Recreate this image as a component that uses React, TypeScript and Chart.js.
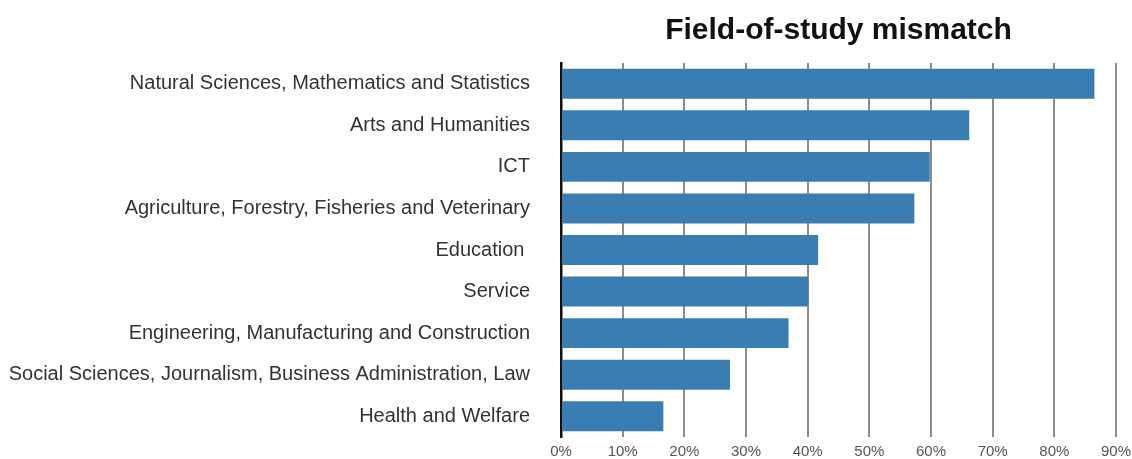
import React, { useEffect, useRef } from "react";
import { Chart, registerables } from "chart.js";

Chart.register(...registerables);

const categories = [
  "Natural Sciences, Mathematics and Statistics",
  "Arts and Humanities",
  "ICT",
  "Agriculture, Forestry, Fisheries and Veterinary",
  "Education ",
  "Service",
  "Engineering, Manufacturing and Construction",
  "Social Sciences, Journalism, Business Administration, Law",
  "Health and Welfare",
];

const mismatchValues = [86.5, 66.2, 59.8, 57.3, 41.7, 40.1, 36.9, 27.4, 16.6];

const xTickValues = [0, 10, 20, 30, 40, 50, 60, 70, 80, 90];

const FONT = "'Liberation Sans', Arial, Helvetica, sans-serif";

export default function App() {
  const ref = useRef<HTMLCanvasElement | null>(null);

  useEffect(() => {
    if (!ref.current) return;
    const chart = new Chart(ref.current, {
      type: "bar",
      data: {
        labels: categories,
        datasets: [
          {
            label: "Field-of-study mismatch",
            data: mismatchValues,
            backgroundColor: "#3a7db3",
            borderWidth: 0,
            categoryPercentage: 1,
            barPercentage: 0.72,
          },
        ],
      },
      options: {
        indexAxis: "y",
        animation: false,
        responsive: false,
        maintainAspectRatio: false,
        layout: { padding: { left: 0, right: 16, top: 0, bottom: 0 } },
        plugins: {
          legend: { display: false },
          tooltip: { enabled: false },
          title: {
            display: true,
            text: "Field-of-study mismatch",
            fullSize: false,
            color: "#111",
            font: { family: FONT, size: 30, weight: "bold", lineHeight: 1.2 },
            padding: { top: 13, bottom: 14 },
          },
        },
        scales: {
          x: {
            min: 0,
            max: 90,
            afterBuildTicks: (scale: any) => {
              scale.ticks = xTickValues.map((v) => ({ value: v }));
            },
            afterFit: (scale: any) => {
              scale.paddingLeft = 0;
              scale.paddingRight = 0;
              scale.height = 22;
            },
            grid: {
              display: true,
              color: "#8c8c8c",
              lineWidth: 2,
              drawTicks: false,
            },
            border: { display: false },
            ticks: {
              padding: 7,
              color: "#555",
              font: { family: FONT, size: 15, lineHeight: 1 },
              callback: (v: any) => v + "%",
              maxRotation: 0,
            },
          },
          y: {
            grid: { display: false, drawTicks: false },
            border: { display: true, color: "#111", width: 2.5 },
            afterFit: (scale: any) => {
              scale.width = 561;
              scale.paddingTop = 0;
              scale.paddingBottom = 0;
            },
            ticks: {
              padding: 31,
              color: "#333",
              font: { family: FONT, size: 20 },
            },
          },
        },
      },
    });
    return () => chart.destroy();
  }, []);

  return (
    <div style={{ position: "fixed", left: 0, top: 0, width: 1132, height: 459, background: "#fff" }}>
      <canvas ref={ref} width={1132} height={459} style={{ width: 1132, height: 459, display: "block" }} />
    </div>
  );
}
